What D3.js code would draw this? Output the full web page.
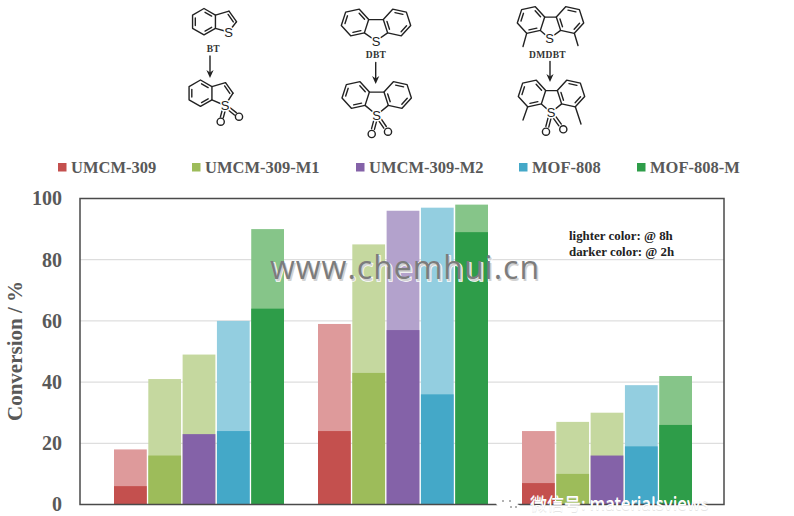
<!DOCTYPE html>
<html>
<head>
<meta charset="utf-8">
<script src="https://cdn.jsdelivr.net/npm/d3@7/dist/d3.min.js"></script>
<style>
  html, body { margin: 0; padding: 0; background: #fff; }
  svg { display: block; }
</style>
</head>
<body>
<svg id="chart" width="794" height="516"></svg>
<script>
// Sulfur compounds oxidised over each MOF catalyst
const substrates = ["BT", "DBT", "DMDBT"];
const catalysts = ["UMCM-309", "UMCM-309-M1", "UMCM-309-M2", "MOF-808", "MOF-808-M"];
const tickValues = [0, 20, 40, 60, 80, 100];

// Conversion (%) after 2 h and after 8 h, one row per substrate
const conversion2h = [
  [6, 16, 23, 24, 64],
  [24, 43, 57, 36, 89],
  [7, 10, 16, 19, 26]
];
const conversion8h = [
  [18, 41, 49, 60, 90],
  [59, 85, 96, 97, 98],
  [24, 27, 30, 39, 42]
];

// Dark fill per catalyst, light fill per substrate and catalyst
const darkFill = ["#C4504E", "#9DBC5A", "#8462A8", "#44A8C8", "#2E9D49"];
const lightFill = [
  ["#DE9A9B", "#C5D89F", "#C5D89F", "#93CEE0", "#86C589"],
  ["#DE9A9B", "#C5D89F", "#B3A2CC", "#93CEE0", "#86C589"],
  ["#DE9A9B", "#C5D89F", "#C5D89F", "#93CEE0", "#86C589"]
];

const svg = d3.select("#chart");
const serif = "'Liberation Serif', serif";

const plot = { left: 80, right: 724, top: 198.5, bottom: 504.5 };

const y = d3.scaleLinear().domain([0, 100]).range([plot.bottom, plot.top]);
const xGroup = d3.scaleBand()
  .domain(substrates)
  .range([plot.left, plot.right + 2])
  .paddingInner(1 / 6)
  .paddingOuter(1 / 6);
const xBar = d3.scaleBand()
  .domain(catalysts)
  .range([0, xGroup.bandwidth()])
  .paddingInner(0.045);

// Horizontal gridlines
svg.append("g").selectAll("line")
  .data(tickValues.filter(t => t > 0 && t < 100))
  .join("line")
  .attr("x1", plot.left).attr("x2", plot.right)
  .attr("y1", d => y(d)).attr("y2", d => y(d))
  .attr("stroke", "#D6D6D6").attr("stroke-width", 1);

// Bars: the 8 h value behind, the 2 h value in front
const groups = svg.append("g").selectAll("g")
  .data(substrates)
  .join("g")
  .attr("transform", d => `translate(${xGroup(d)},0)`);

groups.each(function (sub, i) {
  const g = d3.select(this);
  g.selectAll("rect.h8")
    .data(conversion8h[i])
    .join("rect")
    .attr("class", "h8")
    .attr("x", (d, j) => xBar(catalysts[j]))
    .attr("width", xBar.bandwidth())
    .attr("y", d => y(d))
    .attr("height", d => y(0) - y(d))
    .attr("fill", (d, j) => lightFill[i][j]);
  g.selectAll("rect.h2")
    .data(conversion2h[i])
    .join("rect")
    .attr("class", "h2")
    .attr("x", (d, j) => xBar(catalysts[j]))
    .attr("width", xBar.bandwidth())
    .attr("y", d => y(d))
    .attr("height", d => y(0) - y(d))
    .attr("fill", (d, j) => darkFill[j]);
});

// Plot frame
svg.append("rect")
  .attr("x", plot.left).attr("y", plot.top)
  .attr("width", plot.right - plot.left)
  .attr("height", plot.bottom - plot.top)
  .attr("fill", "none")
  .attr("stroke", "#4A4A4A").attr("stroke-width", 1.5);

// Y axis labels
const yAxis = svg.append("g")
  .attr("transform", `translate(${plot.left},0)`)
  .call(d3.axisLeft(y).tickValues(tickValues).tickSize(0).tickPadding(18));
yAxis.select(".domain").remove();
yAxis.selectAll("text")
  .attr("font-family", serif).attr("font-weight", "bold")
  .attr("font-size", 20).attr("fill", "#595959");

svg.append("text")
  .attr("transform", "translate(22,351) rotate(-90)")
  .attr("text-anchor", "middle")
  .attr("font-family", serif).attr("font-weight", "bold")
  .attr("font-size", 21).attr("fill", "#595959")
  .text("Conversion / %");

// Legend
const legendX = d3.scaleOrdinal().domain(catalysts).range([58, 192, 356, 519, 637]);
const legend = svg.append("g").selectAll("g")
  .data(catalysts)
  .join("g")
  .attr("transform", d => `translate(${legendX(d)},0)`);
legend.append("rect")
  .attr("y", 163).attr("width", 8.5).attr("height", 8.5)
  .attr("fill", (d, j) => darkFill[j]);
legend.append("text")
  .attr("x", 13).attr("y", 173)
  .attr("font-family", serif).attr("font-weight", "bold")
  .attr("font-size", 16.5).attr("fill", "#595959")
  .text(d => d);

// Note on the meaning of the two shades
const note = svg.append("g")
  .attr("font-family", serif).attr("font-weight", "bold")
  .attr("font-size", 12.9).attr("fill", "#222");
note.append("text").attr("x", 569).attr("y", 240).text("lighter color: @ 8h");
note.append("text").attr("x", 569).attr("y", 255.5).text("darker color: @ 2h");

// ---- Reaction schemes above the chart ----
const ink = "#222";
const bondLine = d3.line();
const scheme = svg.append("g")
  .attr("fill", "none").attr("stroke", ink).attr("stroke-width", 1.4)
  .attr("stroke-linecap", "round").attr("stroke-linejoin", "round");

function bond(a, b) {
  scheme.append("path").attr("d", bondLine([a, b]));
}
function hexagon(cx, cy, r, rotDeg) {
  return d3.range(6).map(k => {
    const t = (rotDeg + 60 * k) * Math.PI / 180;
    return [cx + r * Math.cos(t), cy + r * Math.sin(t)];
  });
}
// Ring outline with three inset double bonds starting at the given edge
function aromaticRing(cx, cy, r, rotDeg, firstDouble) {
  const pts = hexagon(cx, cy, r, rotDeg);
  scheme.append("path").attr("d", bondLine(pts) + "Z");
  [0, 2, 4].forEach(e => {
    const a = pts[(firstDouble + e) % 6], b = pts[(firstDouble + e + 1) % 6];
    const inset = p => [cx + (p[0] - cx) * 0.76, cy + (p[1] - cy) * 0.76];
    const ia = inset(a), ib = inset(b);
    const trim = 0.12;
    bond(
      [ia[0] + (ib[0] - ia[0]) * trim, ia[1] + (ib[1] - ia[1]) * trim],
      [ib[0] + (ia[0] - ib[0]) * trim, ib[1] + (ia[1] - ib[1]) * trim]
    );
  });
  return pts;
}
function atomLabel(x, y, s) {
  svg.append("text")
    .attr("x", x).attr("y", y + 4.5)
    .attr("text-anchor", "middle")
    .attr("font-family", "'Liberation Sans', sans-serif")
    .attr("font-size", 13).attr("fill", ink)
    .attr("stroke", "#fff").attr("stroke-width", 3).attr("paint-order", "stroke")
    .text(s);
}
function sulfone(sx, sy, o1, o2) {
  [o1, o2].forEach(o => {
    const dx = o[0] - sx, dy = o[1] - sy, len = Math.hypot(dx, dy);
    const nx = -dy / len * 1.5, ny = dx / len * 1.5;
    const a = [sx + dx * 0.3, sy + dy * 0.3], b = [sx + dx * 0.74, sy + dy * 0.74];
    bond([a[0] + nx, a[1] + ny], [b[0] + nx, b[1] + ny]);
    bond([a[0] - nx, a[1] - ny], [b[0] - nx, b[1] - ny]);
    scheme.append("circle").attr("cx", o[0]).attr("cy", o[1]).attr("r", 3.6);
  });
}
function arrow(x, y0, y1) {
  bond([x, y0], [x, y1 - 4]);
  svg.append("path")
    .attr("d", d3.line()([[x - 3.6, y1 - 8], [x, y1 - 5.5], [x + 3.6, y1 - 8], [x, y1]]) + "Z")
    .attr("fill", ink);
}
function schemeName(x, y, s) {
  svg.append("text")
    .attr("x", x).attr("y", y + 3)
    .attr("text-anchor", "middle")
    .attr("font-family", serif).attr("font-weight", "bold")
    .attr("font-size", 9.5).attr("letter-spacing", 0.3).attr("fill", "#333")
    .text(s);
}
// Benzothiophene skeleton: fused five-membered ring on a six-membered ring
function benzothiophene(cx, cy, s) {
  const pts = aromaticRing(cx, cy, 13.2, 30, 4);
  const top = pts[5], bottom = pts[0];
  const c3 = [cx + 25, cy - 10.5], c2 = [cx + 32.5, cy];
  bond(top, c3);
  bond(c3, c2);
  bond([c3[0] - 0.9, c3[1] + 3.2], [c2[0] - 3.2, c2[1] + 0.2]);
  bond(c2, s);
  bond(s, bottom);
  atomLabel(s[0], s[1], "S");
}
// Dibenzothiophene skeleton: two rings, a central bond and a bridging sulfur
function dibenzothiophene(cx, ringY, half, s, r) {
  const left = aromaticRing(cx - half, ringY, r, -12, 5);
  const right = aromaticRing(cx + half, ringY, r, 12, 0);
  bond(left[0], right[3]);
  bond(left[1], s);
  bond(right[2], s);
  atomLabel(s[0], s[1], "S");
  return { left, right };
}

// BT to its sulfone
benzothiophene(204, 21.7, [228.5, 32]);
schemeName(213.3, 49, "BT");
arrow(210, 56, 78);
benzothiophene(200.5, 93.2, [225, 105.5]);
sulfone(225, 105.5, [220.7, 121.7], [239, 116.7]);

// DBT to its sulfone
dibenzothiophene(376, 22.5, 21, [376, 41], 14);
schemeName(376, 55, "DBT");
arrow(375.7, 62.5, 84);
dibenzothiophene(376.7, 95, 21, [376.7, 115], 14);
sulfone(376.7, 115, [371.7, 134], [388, 131.7]);

// DMDBT to its sulfone, methyl groups beside the sulfur
const dm1 = dibenzothiophene(550.5, 20, 19.5, [549.5, 38.5], 14);
bond(dm1.left[2], [523, 46.5]);
bond(dm1.right[1], [578, 45.5]);
schemeName(547.5, 55, "DMDBT");
arrow(550, 61.5, 82);
const dm2 = dibenzothiophene(551.5, 93.5, 19.5, [551, 112.5], 14);
bond(dm2.left[2], [523, 120]);
bond(dm2.right[1], [581, 124]);
sulfone(551, 112.5, [546, 131.7], [563.3, 129.3]);

// ---- Site watermarks laid over the figure ----
const siteMark = svg.append("g")
  .attr("font-family", "'Open Sans', sans-serif")
  .attr("font-size", 32).attr("letter-spacing", 1);
siteMark.append("text")
  .attr("x", 271.5).attr("y", 280.5)
  .attr("fill", "#D2D2D2")
  .attr("stroke", "#fff").attr("stroke-width", 1.5).attr("paint-order", "stroke")
  .text("www.chemhui.cn");
siteMark.append("text")
  .attr("x", 270).attr("y", 279)
  .attr("fill", "#7C7C7C")
  .text("www.chemhui.cn");

// WeChat badge and account name along the bottom edge
const badge = svg.append("g");
badge.append("ellipse").attr("cx", 507).attr("cy", 503).attr("rx", 11).attr("ry", 6)
  .attr("fill", "#fff");
badge.append("ellipse").attr("cx", 513).attr("cy", 508).attr("rx", 8).attr("ry", 4.5)
  .attr("fill", "#fff");
badge.selectAll("circle")
  .data([[503, 501], [510, 501], [511, 507], [516, 507]])
  .join("circle")
  .attr("cx", d => d[0]).attr("cy", d => d[1]).attr("r", 1)
  .attr("fill", "#999");

const accountMark = svg.append("g")
  .attr("font-family", "'Noto Sans CJK SC', 'Noto Sans', sans-serif")
  .attr("font-size", 17);
accountMark.append("text")
  .attr("x", 530).attr("y", 511)
  .attr("fill", "#E4E4E4")
  .text("微信号: materialsviews");
accountMark.append("text")
  .attr("x", 530).attr("y", 510)
  .attr("fill", "#fff")
  .text("微信号: materialsviews");
</script>
</body>
</html>
